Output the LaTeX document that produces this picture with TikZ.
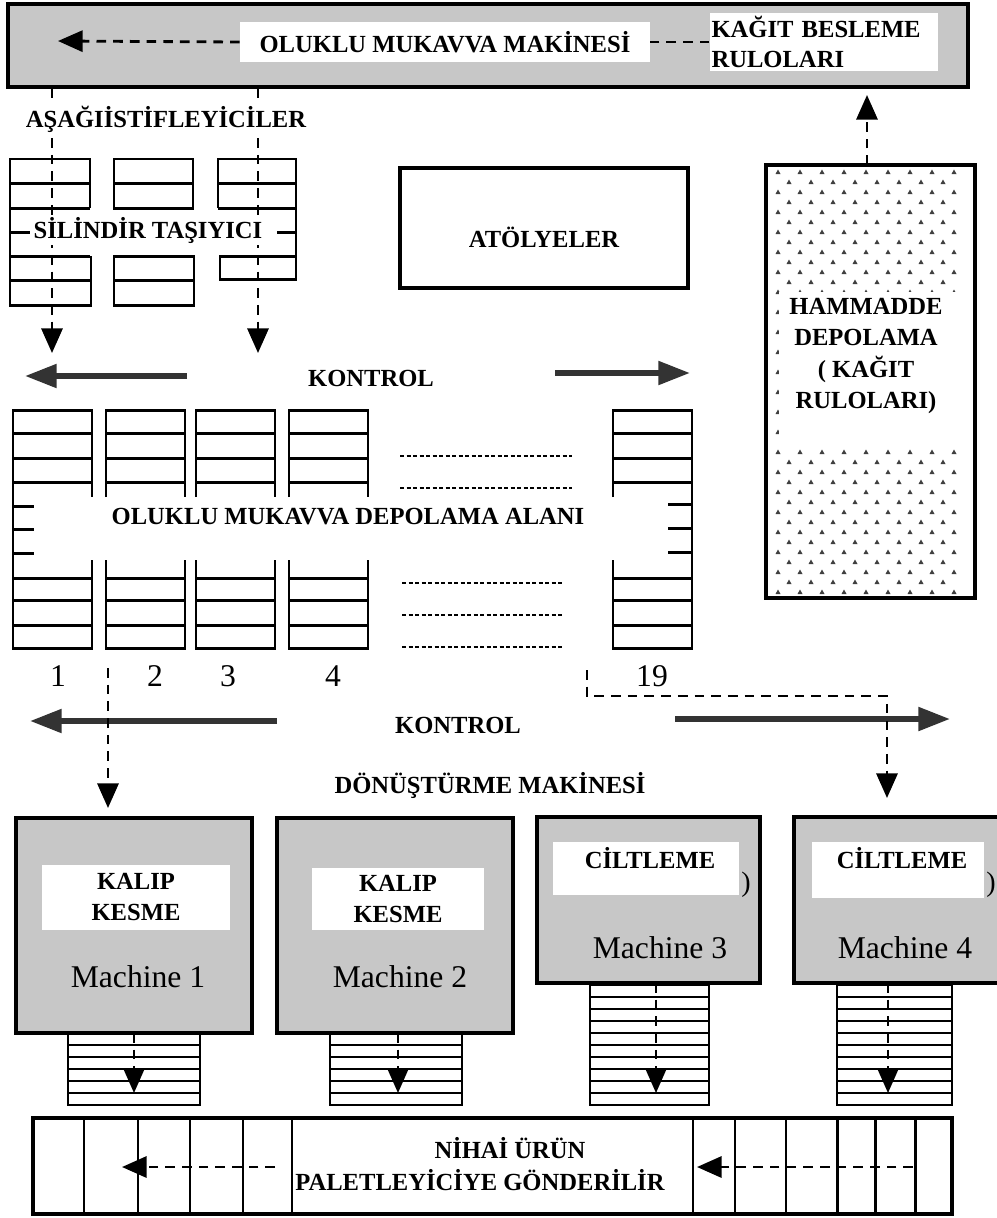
\documentclass[tikz,border=0pt]{standalone}
\usepackage{fontspec}
\setmainfont{Liberation Serif}
\usetikzlibrary{arrows.meta}

\begin{document}
\begin{tikzpicture} [x = 0.02cm, y = -0.02cm,
	lbl/.style = {font = \fontsize{14}{17.5}\selectfont\bfseries, inner sep = 1pt, align = center},
	mach/.style = {font = \fontsize{18}{20}\selectfont, inner sep = 0pt},
	rack/.style = {line width = 1.7pt},
	shade/.style = {fill = black!22, line width = 2pt},
	wbox/.style = {fill = white, inner sep = 0pt},
	kontrol/.style = {line width = 3.2pt, black!80, -{Triangle[length = 18pt, width = 13pt]}},
	dline/.style = {line width = 1.6pt, dash pattern = on 5.5pt off 4pt},
	flow/.style = {dline, -{Triangle[length = 14pt, width = 12pt]}},
	fine/.style = {line width = 1pt, dash pattern = on 2.5pt off 1.2pt}]
	\clip (0,0) rectangle (997,1218);

	% top bar
	\draw [shade, line width = 2.4pt] (8,4) rectangle (968,87);
	\node [wbox, lbl, minimum width = 8.2cm, minimum height = 0.8cm] (okm) at (445,42) {OLUKLU MUKAVVA MAKİNESİ};
	\node [wbox, lbl, minimum width = 4.56cm, minimum height = 1.18cm, text width = 4.5cm, align = left] (kbr) at (824,42) {KAĞIT BESLEME\\RULOLARI};
	\coordinate (t1) at (58,41);
	\draw [flow] (okm.west) -- (t1);
	\draw [dline] (kbr.west) -- (okm.east);

	% cylinder carrier racks
	\draw [rack] (90,208) -- (90,159) -- (10,159) -- (10,305) -- (91,305) -- (91,256);
	\foreach \y in {183,208,256,280} \draw [rack] (10,\y) -- (90,\y);
	\draw [rack] (10,232) -- (30,232);
	\draw [rack] (114,159) rectangle (193,208);
	\draw [rack] (114,183) -- (193,183);
	\draw [rack] (114,256) rectangle (194,305);
	\draw [rack] (114,280) -- (194,280);
	\draw [rack] (218,208) -- (218,159) -- (296,159) -- (296,279) -- (220,279) -- (220,256) -- (296,256);
	\draw [rack] (218,183) -- (296,183);
	\draw [rack] (218,208) -- (296,208);
	\draw [rack] (277,232) -- (296,232);
	\coordinate (s1) at (52,88);
	\coordinate (a1) at (52,353);
	\coordinate (s2) at (258,88);
	\coordinate (a2) at (258,353);
	\draw [flow] (s1) -- (a1);
	\draw [flow] (s2) -- (a2);
	\node [lbl, fill = white] (asg) at (166,119) {AŞAĞIİSTİFLEYİCİLER};
	\node [lbl, fill = white] (sil) at (148,230) {SİLİNDİR TAŞIYICI};

	% workshops
	\draw [line width = 2pt] (400,168) rectangle (688,288);
	\node [lbl] (atl) at (544,237) {ATÖLYELER};

	% raw material storage
	\foreach \y in {172,192,...,592}
		\foreach \x in {778,800,...,966}
			\fill [black!75] (\x-2.5,\y+2) -- (\x+2.5,\y+2) -- (\x,\y-2.5) -- cycle;
	\foreach \y in {182,202,...,582}
		\foreach \x in {789,811,...,955}
			\fill [black!75] (\x-2.5,\y+2) -- (\x+2.5,\y+2) -- (\x,\y-2.5) -- cycle;
	\fill [white] (779,292) rectangle (961,448);
	\draw [line width = 2.2pt] (766,165) rectangle (975,598);
	\node [lbl, font = \fontsize{14}{18}\selectfont\bfseries] (hd) at (866,356) {HAMMADDE\\DEPOLAMA\\( KAĞIT\\RULOLARI)};
	\coordinate (h1) at (867,165);
	\coordinate (h2) at (867,95);
	\draw [flow] (h1) -- (h2);

	% upper control
	\node [lbl] (k1) at (371,378) {KONTROL};
	\draw [kontrol] (187,376) -- (25,376);
	\draw [kontrol] (555,373) -- (690,373);

	% corrugated board storage
	\foreach \x in {13,106,196,289,613} {
		\draw [rack] (\x,497) -- (\x,410) -- (\x+79,410) -- (\x+79,497);
		\draw [rack] (\x,560) -- (\x,648) -- (\x+79,648) -- (\x+79,560);
		\foreach \y in {433,458,482,578,600,625} \draw [rack] (\x,\y) -- (\x+79,\y);
	}
	\draw [rack] (13,497) -- (13,560);
	\foreach \y in {506,529,553} \draw [rack] (13,\y) -- (34,\y);
	\draw [rack] (692,497) -- (692,560);
	\foreach \y in {504,528,552} \draw [rack] (668,\y) -- (692,\y);
	\foreach \y in {456,488} \draw [fine] (400,\y) -- (572,\y);
	\foreach \y in {583,615,647} \draw [fine] (402,\y) -- (563,\y);
	\node [lbl] (oda) at (348,517) {OLUKLU MUKAVVA DEPOLAMA ALANI};
	\node [mach] (n1) at (58,676) {1};
	\node [mach] (n2) at (155,676) {2};
	\node [mach] (n3) at (228,676) {3};
	\node [mach] (n4) at (333,676) {4};
	\node [mach] (n19) at (652,676) {19};

	% lower control and feed to machines
	\node [lbl] (k2) at (458,725) {KONTROL};
	\node [lbl] (dm) at (490,785) {DÖNÜŞTÜRME MAKİNESİ};
	\draw [kontrol] (277,721) -- (30,721);
	\draw [kontrol] (675,719) -- (950,719);
	\coordinate (f1) at (108,668);
	\coordinate (f2) at (108,808);
	\draw [flow] (f1) -- (f2);
	\coordinate (f3) at (587,670);
	\coordinate (f4) at (887,798);
	\draw [flow] (f3) |- (887,696) -- (f4);

	% machines
	\draw [shade] (16,818) rectangle (252,1033);
	\node [wbox, lbl, minimum width = 3.78cm, minimum height = 1.3cm] (kk1) at (136,897) {KALIP\\KESME};
	\node [mach] (m1) at (138,977) {Machine 1};
	\draw [shade] (277,818) rectangle (513,1033);
	\node [wbox, lbl, minimum width = 3.46cm, minimum height = 1.24cm] (kk2) at (398,899) {KALIP\\KESME};
	\node [mach] (m2) at (400,977) {Machine 2};
	\draw [shade] (537,817) rectangle (760,983);
	\node [wbox, minimum width = 3.74cm, minimum height = 1.06cm] (cb3) at (646,868) {};
	\node [lbl] (c3) at (650,858) {CİLTLEME};
	\node [mach, font = \fontsize{16}{18}\selectfont] (p3) at (746,885) {)};
	\node [mach] (m3) at (660,948) {Machine 3};
	\draw [shade] (794,817) rectangle (1010,983);
	\node [wbox, minimum width = 3.46cm, minimum height = 1.12cm] (cb4) at (898,870) {};
	\node [lbl] (c4) at (902,858) {CİLTLEME};
	\node [mach, font = \fontsize{16}{18}\selectfont] (p4) at (991,885) {)};
	\node [mach] (m4) at (905,948) {Machine 4};

	% output stacks
	\foreach \l/\r/\t/\m in {68/200/1033/134, 330/462/1033/398, 590/709/983/656, 837/952/983/888} {
		\draw [rack, line width = 1.3pt] (\l,\t) -- (\l,1105) -- (\r,1105) -- (\r,\t);
		\foreach \y in {1093,1081,...,\t} \draw [rack, line width = 1.3pt] (\l,\y) -- (\r,\y);
		\draw [flow, line width = 1.3pt] (\m,\t) -- (\m,1093);
	}

	% palletizer
	\draw [line width = 2pt] (33,1118) rectangle (952,1214);
	\foreach \x in {84,138,190,243,292,693,735,786,837,875,915} \draw [rack] (\x,1118) -- (\x,1214);
	\node [lbl] (nu) at (510,1148) {NİHAİ ÜRÜN};
	\node [lbl] (pg) at (480,1180) {PALETLEYİCİYE GÖNDERİLİR};
	\coordinate (b1) at (275,1167);
	\coordinate (b2) at (122,1167);
	\coordinate (b3) at (913,1167);
	\coordinate (b4) at (697,1167);
	\draw [flow] (b1) -- (b2);
	\draw [flow] (b3) -- (b4);
\end{tikzpicture}
\end{document}
